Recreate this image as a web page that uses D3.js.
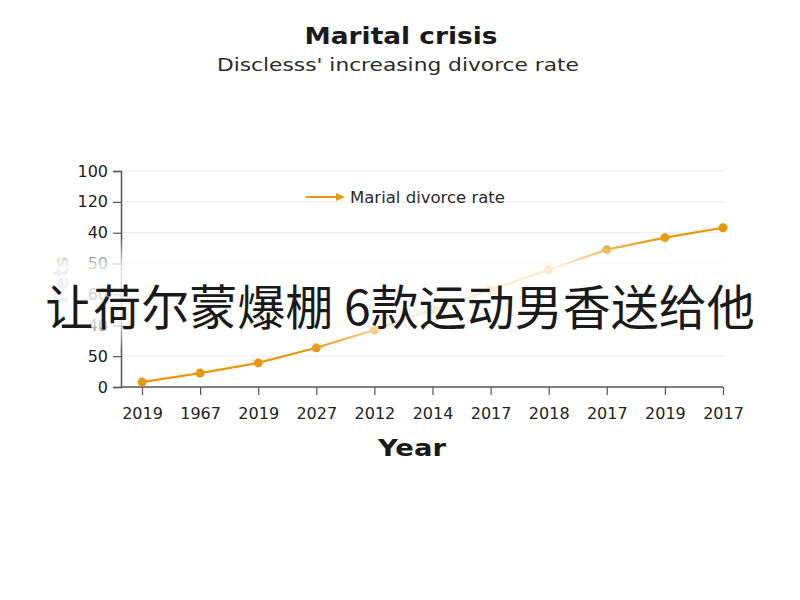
<!DOCTYPE html>
<html>
<head>
<meta charset="utf-8">
<script src="https://cdn.jsdelivr.net/npm/d3@7"></script>
<style>
  body { margin: 0; background: #fff; }
  svg { display: block; font-family: "DejaVu Sans", sans-serif; }
</style>
</head>
<body>
<svg id="chart" width="800" height="600"></svg>
<script>
// data
const years = ["2019", "1967", "2019", "2027", "2012", "2014", "2017", "2018", "2017", "2019", "2017"];
const rates = [0.16, 0.45, 0.78, 1.27, 1.85, 2.5, 3.15, 3.8, 4.45, 4.84, 5.16];
const yTicks = [0, 1, 2, 3, 4, 5, 6, 7];
const yTickLabels = ["0", "50", "40", "60", "50", "40", "120", "100"];

const width = 800, height = 600;
const margin = { top: 171, right: 77, bottom: 213, left: 121 };
const orange = "#e8970f";
const font = "DejaVu Sans, sans-serif";

const svg = d3.select("#chart");

// scales
const x = d3.scalePoint()
    .domain(d3.range(years.length))
    .range([142, 723]);

const y = d3.scaleLinear()
    .domain([0, 7])
    .range([height - margin.bottom, margin.top]);

// titles
svg.append("text")
    .attr("x", 401).attr("y", 44)
    .attr("text-anchor", "middle")
    .attr("font-size", 23).attr("font-weight", "bold")
    .attr("fill", "#1a1a1a")
    .attr("textLength", 193).attr("lengthAdjust", "spacingAndGlyphs")
    .text("Marital crisis");

svg.append("text")
    .attr("x", 398).attr("y", 71)
    .attr("text-anchor", "middle")
    .attr("font-size", 17)
    .attr("fill", "#2a2a2a")
    .attr("textLength", 362).attr("lengthAdjust", "spacingAndGlyphs")
    .text("Disclesss' increasing divorce rate");

// gridlines
svg.append("g")
    .selectAll("line")
    .data(yTicks.slice(1))
    .join("line")
    .attr("x1", margin.left).attr("x2", 725)
    .attr("y1", d => y(d)).attr("y2", d => y(d))
    .attr("stroke", "#ebebeb");

// y axis
const yAxis = svg.append("g")
    .attr("transform", `translate(${margin.left},0)`)
    .call(d3.axisLeft(y).tickValues(yTicks).tickFormat((d, i) => yTickLabels[i]).tickSize(8).tickPadding(5));
yAxis.select(".domain").attr("stroke", "#555").attr("stroke-width", 1.5);
yAxis.selectAll(".tick line").attr("stroke", "#555").attr("stroke-width", 1.2);
yAxis.selectAll(".tick text").attr("font-size", 16).attr("fill", "#222")
    .attr("font-family", font);

// x axis
const xAxis = svg.append("g")
    .attr("transform", `translate(0,${y(0)})`)
    .call(d3.axisBottom(x).tickFormat(i => years[i]).tickSize(8).tickPadding(13));
xAxis.select(".domain").attr("stroke", "#555").attr("stroke-width", 1.5)
    .attr("d", `M${margin.left},0H723`);
xAxis.selectAll(".tick line").attr("stroke", "#555").attr("stroke-width", 1.2);
xAxis.selectAll(".tick text").attr("font-size", 16).attr("fill", "#222")
    .attr("font-family", font);

// axis titles
svg.append("text")
    .attr("x", 412).attr("y", 456)
    .attr("text-anchor", "middle")
    .attr("font-size", 23).attr("font-weight", "bold")
    .attr("fill", "#1a1a1a")
    .attr("textLength", 68).attr("lengthAdjust", "spacingAndGlyphs")
    .text("Year");

svg.append("text")
    .attr("transform", "translate(68,280) rotate(-90)")
    .attr("text-anchor", "middle")
    .attr("font-size", 19).attr("font-weight", "bold")
    .attr("fill", "#aaa")
    .text("Pets");

// line + points
const line = d3.line()
    .x((d, i) => x(i))
    .y(d => y(d));

svg.append("path")
    .datum(rates)
    .attr("d", line)
    .attr("fill", "none")
    .attr("stroke", orange)
    .attr("stroke-width", 2.2);

svg.append("g")
    .selectAll("circle")
    .data(rates)
    .join("circle")
    .attr("cx", (d, i) => x(i))
    .attr("cy", d => y(d))
    .attr("r", 4.5)
    .attr("fill", orange);

// legend
const legend = svg.append("g").attr("transform", "translate(306,197)");
legend.append("line")
    .attr("x1", 0).attr("x2", 36)
    .attr("stroke", orange).attr("stroke-width", 2);
legend.append("path")
    .attr("d", "M30,-4L39,0L30,4Z")
    .attr("fill", orange);
legend.append("text")
    .attr("x", 44).attr("y", 6)
    .attr("font-size", 16.5)
    .attr("fill", "#2a2a2a")
    .text("Marial divorce rate");

// washed-out band behind the overlay caption
const defs = svg.append("defs");
const grad = defs.append("linearGradient")
    .attr("id", "band").attr("x1", 0).attr("x2", 0).attr("y1", 0).attr("y2", 1);
[[0, 0], [0.25, 0.8], [0.75, 0.8], [1, 0]].forEach(([o, a]) => {
    grad.append("stop").attr("offset", o).attr("stop-color", "#fff").attr("stop-opacity", a);
});
svg.append("rect")
    .attr("x", 0).attr("y", 238)
    .attr("width", width).attr("height", 112)
    .attr("fill", "url(#band)");

svg.append("text")
    .attr("x", 400).attr("y", 325)
    .attr("text-anchor", "middle")
    .attr("font-family", "Noto Sans CJK SC, sans-serif")
    .attr("font-size", 48)
    .attr("fill", "#1a1a1a")
    .text("让荷尔蒙爆棚 6款运动男香送给他");
</script>
</body>
</html>
